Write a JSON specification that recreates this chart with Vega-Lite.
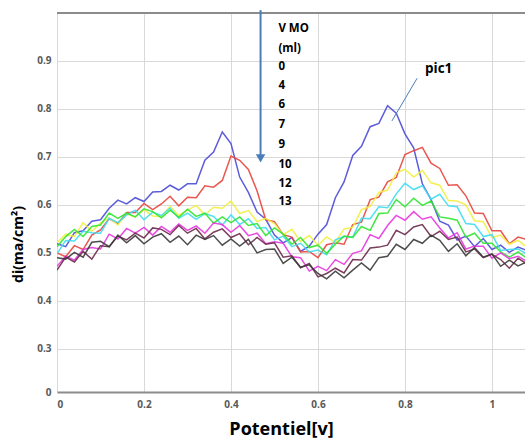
{
  "$schema": "https://vega.github.io/schema/vega-lite/v6.json",
  "width": 468,
  "height": 379,
  "autosize": {"type": "none"},
  "padding": {"left": 57, "top": 13, "right": 0, "bottom": 49},
  "config": {"view": {"stroke": null}, "font": "Open Sans"},
  "datasets": {
    "curves": [
      {"v":0.00,"s00":0.519,"s04":0.500,"s06":0.521,"s07":0.498,"s09":0.513,"s10":0.472,"s12":0.464,"s13":0.490},
      {"v":0.02,"s00":0.513,"s04":0.492,"s06":0.539,"s07":0.526,"s09":0.534,"s10":0.493,"s12":0.491,"s13":0.487},
      {"v":0.04,"s00":0.542,"s04":0.515,"s06":0.534,"s07":0.525,"s09":0.549,"s10":0.485,"s12":0.481,"s13":0.501},
      {"v":0.06,"s00":0.546,"s04":0.507,"s06":0.563,"s07":0.545,"s09":0.534,"s10":0.507,"s12":0.503,"s13":0.491},
      {"v":0.08,"s00":0.566,"s04":0.537,"s06":0.545,"s07":0.542,"s09":0.555,"s10":0.511,"s12":0.487,"s13":0.522},
      {"v":0.10,"s00":0.569,"s04":0.548,"s06":0.562,"s07":0.541,"s09":0.558,"s10":0.508,"s12":0.515,"s13":0.524},
      {"v":0.12,"s00":0.593,"s04":0.571,"s06":0.573,"s07":0.572,"s09":0.583,"s10":0.539,"s12":0.513,"s13":0.513},
      {"v":0.14,"s00":0.610,"s04":0.561,"s06":0.558,"s07":0.563,"s09":0.572,"s10":0.529,"s12":0.535,"s13":0.537},
      {"v":0.16,"s00":0.602,"s04":0.584,"s06":0.581,"s07":0.579,"s09":0.583,"s10":0.551,"s12":0.527,"s13":0.521},
      {"v":0.18,"s00":0.615,"s04":0.584,"s06":0.575,"s07":0.589,"s09":0.575,"s10":0.541,"s12":0.541,"s13":0.536},
      {"v":0.20,"s00":0.607,"s04":0.603,"s06":0.590,"s07":0.569,"s09":0.592,"s10":0.553,"s12":0.531,"s13":0.519},
      {"v":0.22,"s00":0.627,"s04":0.590,"s06":0.577,"s07":0.585,"s09":0.586,"s10":0.537,"s12":0.552,"s13":0.533},
      {"v":0.24,"s00":0.628,"s04":0.602,"s06":0.576,"s07":0.578,"s09":0.573,"s10":0.555,"s12":0.549,"s13":0.540},
      {"v":0.26,"s00":0.641,"s04":0.618,"s06":0.597,"s07":0.593,"s09":0.589,"s10":0.543,"s12":0.538,"s13":0.522},
      {"v":0.28,"s00":0.631,"s04":0.598,"s06":0.578,"s07":0.572,"s09":0.574,"s10":0.560,"s12":0.557,"s13":0.535},
      {"v":0.30,"s00":0.644,"s04":0.616,"s06":0.589,"s07":0.583,"s09":0.591,"s10":0.547,"s12":0.541,"s13":0.517},
      {"v":0.32,"s00":0.644,"s04":0.615,"s06":0.599,"s07":0.570,"s09":0.576,"s10":0.556,"s12":0.551,"s13":0.537},
      {"v":0.34,"s00":0.693,"s04":0.640,"s06":0.579,"s07":0.582,"s09":0.583,"s10":0.541,"s12":0.529,"s13":0.528},
      {"v":0.36,"s00":0.710,"s04":0.637,"s06":0.595,"s07":0.576,"s09":0.562,"s10":0.562,"s12":0.543,"s13":0.536},
      {"v":0.38,"s00":0.752,"s04":0.651,"s06":0.593,"s07":0.558,"s09":0.575,"s10":0.559,"s12":0.550,"s13":0.516},
      {"v":0.40,"s00":0.728,"s04":0.702,"s06":0.608,"s07":0.579,"s09":0.563,"s10":0.543,"s12":0.532,"s13":0.529},
      {"v":0.42,"s00":0.658,"s04":0.693,"s06":0.582,"s07":0.559,"s09":0.575,"s10":0.557,"s12":0.540,"s13":0.514},
      {"v":0.44,"s00":0.626,"s04":0.674,"s06":0.588,"s07":0.571,"s09":0.557,"s10":0.536,"s12":0.517,"s13":0.528},
      {"v":0.46,"s00":0.585,"s04":0.629,"s06":0.565,"s07":0.551,"s09":0.561,"s10":0.541,"s12":0.532,"s13":0.500},
      {"v":0.48,"s00":0.570,"s04":0.569,"s06":0.572,"s07":0.553,"s09":0.536,"s10":0.519,"s12":0.518,"s13":0.507},
      {"v":0.50,"s00":0.537,"s04":0.565,"s06":0.561,"s07":0.527,"s09":0.552,"s10":0.523,"s12":0.521,"s13":0.508},
      {"v":0.52,"s00":0.521,"s04":0.538,"s06":0.538,"s07":0.535,"s09":0.539,"s10":0.520,"s12":0.491,"s13":0.478},
      {"v":0.54,"s00":0.532,"s04":0.533,"s06":0.549,"s07":0.513,"s09":0.518,"s10":0.492,"s12":0.494,"s13":0.491},
      {"v":0.56,"s00":0.503,"s04":0.502,"s06":0.524,"s07":0.520,"s09":0.532,"s10":0.490,"s12":0.469,"s13":0.470},
      {"v":0.58,"s00":0.514,"s04":0.503,"s06":0.536,"s07":0.502,"s09":0.511,"s10":0.462,"s12":0.478,"s13":0.475},
      {"v":0.60,"s00":0.539,"s04":0.490,"s06":0.516,"s07":0.506,"s09":0.516,"s10":0.472,"s12":0.450,"s13":0.457},
      {"v":0.62,"s00":0.559,"s04":0.517,"s06":0.533,"s07":0.496,"s09":0.499,"s10":0.463,"s12":0.457,"s13":0.446},
      {"v":0.64,"s00":0.615,"s04":0.521,"s06":0.522,"s07":0.527,"s09":0.518,"s10":0.486,"s12":0.468,"s13":0.462},
      {"v":0.66,"s00":0.648,"s04":0.518,"s06":0.550,"s07":0.534,"s09":0.535,"s10":0.476,"s12":0.458,"s13":0.448},
      {"v":0.68,"s00":0.703,"s04":0.559,"s06":0.553,"s07":0.533,"s09":0.532,"s10":0.499,"s12":0.486,"s13":0.464},
      {"v":0.70,"s00":0.722,"s04":0.564,"s06":0.590,"s07":0.572,"s09":0.555,"s10":0.504,"s12":0.485,"s13":0.479},
      {"v":0.72,"s00":0.763,"s04":0.611,"s06":0.597,"s07":0.571,"s09":0.547,"s10":0.538,"s12":0.510,"s13":0.464},
      {"v":0.74,"s00":0.770,"s04":0.616,"s06":0.626,"s07":0.596,"s09":0.582,"s10":0.530,"s12":0.512,"s13":0.490},
      {"v":0.76,"s00":0.807,"s04":0.648,"s06":0.631,"s07":0.594,"s09":0.583,"s10":0.557,"s12":0.516,"s13":0.493},
      {"v":0.78,"s00":0.791,"s04":0.657,"s06":0.667,"s07":0.623,"s09":0.611,"s10":0.578,"s12":0.547,"s13":0.518},
      {"v":0.80,"s00":0.748,"s04":0.705,"s06":0.674,"s07":0.645,"s09":0.596,"s10":0.568,"s12":0.538,"s13":0.507},
      {"v":0.82,"s00":0.719,"s04":0.713,"s06":0.658,"s07":0.632,"s09":0.614,"s10":0.586,"s12":0.554,"s13":0.528},
      {"v":0.84,"s00":0.644,"s04":0.720,"s06":0.672,"s07":0.640,"s09":0.599,"s10":0.570,"s12":0.559,"s13":0.520},
      {"v":0.86,"s00":0.611,"s04":0.687,"s06":0.646,"s07":0.612,"s09":0.608,"s10":0.575,"s12":0.534,"s13":0.537},
      {"v":0.88,"s00":0.566,"s04":0.676,"s06":0.641,"s07":0.622,"s09":0.575,"s10":0.552,"s12":0.545,"s13":0.526},
      {"v":0.90,"s00":0.558,"s04":0.641,"s06":0.609,"s07":0.598,"s09":0.572,"s10":0.531,"s12":0.528,"s13":0.503},
      {"v":0.92,"s00":0.527,"s04":0.642,"s06":0.608,"s07":0.596,"s09":0.568,"s10":0.542,"s12":0.533,"s13":0.519},
      {"v":0.94,"s00":0.535,"s04":0.619,"s06":0.600,"s07":0.561,"s09":0.533,"s10":0.508,"s12":0.502,"s13":0.494},
      {"v":0.96,"s00":0.513,"s04":0.583,"s06":0.567,"s07":0.559,"s09":0.541,"s10":0.514,"s12":0.508,"s13":0.511},
      {"v":0.98,"s00":0.530,"s04":0.582,"s06":0.565,"s07":0.534,"s09":0.520,"s10":0.514,"s12":0.490,"s13":0.491},
      {"v":1.00,"s00":0.507,"s04":0.546,"s06":0.532,"s07":0.538,"s09":0.520,"s10":0.489,"s12":0.497,"s13":0.498},
      {"v":1.02,"s00":0.516,"s04":0.546,"s06":0.537,"s07":0.505,"s09":0.502,"s10":0.500,"s12":0.486,"s13":0.472},
      {"v":1.04,"s00":0.501,"s04":0.519,"s06":0.518,"s07":0.507,"s09":0.491,"s10":0.488,"s12":0.468,"s13":0.485},
      {"v":1.06,"s00":0.512,"s04":0.533,"s06":0.526,"s07":0.508,"s09":0.502,"s10":0.493,"s12":0.489,"s13":0.473},
      {"v":1.08,"s00":0.505,"s04":0.528,"s06":0.512,"s07":0.498,"s09":0.489,"s10":0.482,"s12":0.477,"s13":0.481}
    ],
    "labels": [
      {"t":"V MO","v":0.509,"y":0.967},
      {"t":"(ml)","v":0.509,"y":0.925},
      {"t":"0","v":0.509,"y":0.888},
      {"t":"4","v":0.509,"y":0.847},
      {"t":"6","v":0.509,"y":0.808},
      {"t":"7","v":0.509,"y":0.767},
      {"t":"9","v":0.509,"y":0.725},
      {"t":"10","v":0.509,"y":0.684},
      {"t":"12","v":0.509,"y":0.643},
      {"t":"13","v":0.509,"y":0.606}
    ],
    "pic": [{"t":"pic1","v":0.846,"y":0.884,"v1":0.828,"y1":0.864,"v2":0.770,"y2":0.775}],
    "arrow": [{"v":0.468,"top":1.006,"bottom":0.70,"head":0.697}]
  },
  "layer": [
    {
      "data": {"name": "curves"},
      "transform": [{"fold": ["s00","s04","s06","s07","s09","s10","s12","s13"], "as": ["series","val"]}],
      "mark": {"type": "line", "strokeWidth": 1.5, "clip": true, "opacity": 0.9},
      "encoding": {
        "x": {
          "field": "v", "type": "quantitative",
          "scale": {"domain": [0, 1.076], "nice": false, "zero": false},
          "axis": {
            "values": [0, 0.2, 0.4, 0.6, 0.8, 1],
            "labelExpr": "datum.value == 0 || datum.value == 1 ? format(datum.value, 'd') : format(datum.value, '.1f')",
            "grid": true, "gridColor": "#d9d9d9", "gridWidth": 1,
            "domainColor": "#8c8c8c", "domainWidth": 2,
            "ticks": false,
            "labelFont": "Open Sans", "labelFontWeight": "bold", "labelFontSize": 10, "labelColor": "#595959",
            "labelPadding": 7,
            "title": "Potentiel[v]", "titleFont": "Open Sans", "titleFontSize": 18, "titleFontWeight": "bold", "titleColor": "#000000",
            "titleX": 224, "titleY": 37, "titleBaseline": "middle", "titleAlign": "center"
          }
        },
        "y": {
          "field": "val", "type": "quantitative",
          "scale": {"domain": [0.21, 1.0], "nice": false, "zero": false},
          "axis": {
            "values": [0.21, 0.3, 0.4, 0.5, 0.6, 0.7, 0.8, 0.9],
            "labelExpr": "datum.value < 0.25 ? '0' : format(datum.value, '.1f')",
            "grid": true, "gridColor": "#d9d9d9", "gridWidth": 1,
            "domain": false, "ticks": false,
            "labelFont": "Open Sans", "labelFontWeight": "bold", "labelFontSize": 10, "labelColor": "#595959",
            "labelPadding": 6,
            "title": "di(ma/cm²)", "titleFont": "Open Sans", "titleFontSize": 14, "titleFontWeight": "bold", "titleColor": "#000000",
            "titleX": -39, "titleY": 231, "titleBaseline": "middle", "titleAlign": "center", "titleAngle": -90
          }
        },
        "color": {
          "field": "series", "type": "nominal",
          "scale": {
            "domain": ["s00","s04","s06","s07","s09","s10","s12","s13"],
            "range": ["#4b4bd8","#e8453c","#f2ee40","#3fdcf0","#2ee62e","#e835e0","#6b2a4a","#3a3a3a"]
          },
          "legend": null
        }
      }
    },
    {
      "data": {"values": [{"top": 1.0}]},
      "mark": {"type": "rule", "color": "#8c8c8c", "strokeWidth": 2},
      "encoding": {"y": {"field": "top", "type": "quantitative"}}
    },
    {
      "data": {"name": "arrow"},
      "mark": {"type": "rule", "color": "#4a7ebb", "strokeWidth": 2},
      "encoding": {
        "x": {"field": "v", "type": "quantitative"},
        "y": {"field": "top", "type": "quantitative"},
        "y2": {"field": "bottom"}
      }
    },
    {
      "data": {"name": "arrow"},
      "mark": {"type": "point", "shape": "triangle-down", "filled": true, "color": "#4a7ebb", "size": 90, "opacity": 1},
      "encoding": {
        "x": {"field": "v", "type": "quantitative"},
        "y": {"field": "head", "type": "quantitative"}
      }
    },
    {
      "data": {"name": "labels"},
      "mark": {"type": "text", "align": "left", "baseline": "middle", "font": "Open Sans", "fontWeight": "bold", "fontSize": 11.5, "color": "#000000"},
      "encoding": {
        "x": {"field": "v", "type": "quantitative"},
        "y": {"field": "y", "type": "quantitative"},
        "text": {"field": "t"}
      }
    },
    {
      "data": {"name": "pic"},
      "mark": {"type": "rule", "color": "#4a7ebb", "strokeWidth": 1},
      "encoding": {
        "x": {"field": "v1", "type": "quantitative"},
        "y": {"field": "y1", "type": "quantitative"},
        "x2": {"field": "v2"},
        "y2": {"field": "y2"}
      }
    },
    {
      "data": {"name": "pic"},
      "mark": {"type": "text", "align": "left", "baseline": "middle", "font": "Open Sans", "fontWeight": "bold", "fontSize": 13.5, "color": "#000000"},
      "encoding": {
        "x": {"field": "v", "type": "quantitative"},
        "y": {"field": "y", "type": "quantitative"},
        "text": {"field": "t"}
      }
    }
  ]
}
